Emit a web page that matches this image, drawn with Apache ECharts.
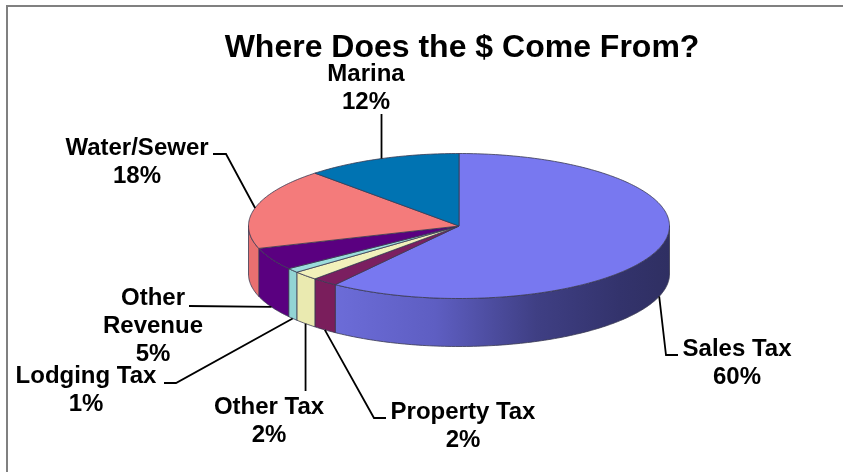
<!DOCTYPE html>
<html>
<head>
<meta charset="utf-8">
<style>html,body{margin:0;padding:0;background:#fff}#chart{width:843px;height:472px}</style>
<script src="https://cdn.jsdelivr.net/npm/echarts@6/dist/echarts.min.js"></script>
</head>
<body>
<div id="chart"></div>
<script>
// Revenue sources, clockwise from twelve o'clock
const categories = ['Sales Tax', 'Property Tax', 'Other Tax', 'Lodging Tax', 'Other Revenue', 'Water/Sewer', 'Marina'];
const shares = [60, 2, 2, 1, 5, 18, 12];
const chartTitle = 'Where Does the $ Come From?';

// Face and wall fills for each slice
const topColors = ['#7878f0', '#7b1f60', '#f1f1bb', '#9bdcdc', '#5a0080', '#f47b7b', '#0073b2'];
const wallColors = [null, '#7a1e5c', '#eaeab0', '#92d4d4', '#5a0080', '#e87070', '#0073b2'];
const salesWallStops = [
  { offset: 0, color: '#6c6cd8' }, { offset: 0.3, color: '#5e5ec2' },
  { offset: 0.6, color: '#3f3f84' }, { offset: 0.85, color: '#33336c' }, { offset: 1, color: '#2f2f62' }
];

// Disc geometry in pixels
const disc = { cx: 459, cy: 226, rx: 210.5, ry: 72.5, depth: 48 };

// Text placement: centre x and baseline of the first line; label-side points of each leader line
const labelLayout = [
  { lines: ['Sales Tax'], x: 737, y: 356, leader: [[678, 355], [666, 355]], onWall: true },
  { lines: ['Property Tax'], x: 463, y: 419, leader: [[386, 418], [374, 418]], onWall: true },
  { lines: ['Other Tax'], x: 269, y: 414, leader: [[308, 391]], onWall: true, vertical: true },
  { lines: ['Lodging Tax'], x: 86, y: 383, leader: [[164, 383], [176, 383]], onWall: true },
  { lines: ['Other', 'Revenue'], x: 153, y: 305, leader: [[189, 306]], onWall: true },
  { lines: ['Water/Sewer'], x: 137, y: 155, leader: [[213, 154], [226, 154]], onWall: false },
  { lines: ['Marina'], x: 366, y: 81, leader: [[382, 114]], onWall: false, vertical: true }
];
const lineStep = 28;
const labelFontSize = 24;
const descent = 5;
const labelFont = 'bold ' + labelFontSize + 'px "Liberation Sans", Arial, sans-serif';

const total = shares.reduce((a, b) => a + b, 0);
const bounds = [];
shares.reduce((acc, v) => { bounds.push([acc / total, (acc + v) / total]); return acc + v; }, 0);

// Angle measured clockwise from the top of the disc
function rimPoint(t, drop) {
  const a = t * 2 * Math.PI;
  return [disc.cx + disc.rx * Math.sin(a), disc.cy - disc.ry * Math.cos(a) + (drop || 0)];
}
function arc(t0, t1, drop) {
  const pts = [];
  const n = Math.max(4, Math.ceil((t1 - t0) * 360));
  for (let i = 0; i <= n; i++) pts.push(rimPoint(t0 + (t1 - t0) * i / n, drop));
  return pts;
}

const edge = { stroke: '#3a3a52', lineWidth: 0.8, lineJoin: 'round' };

function renderWall(params, api) {
  const i = api.value(0);
  // Only the part of the rim facing the viewer is visible
  const t0 = Math.max(bounds[i][0], 0.25), t1 = Math.min(bounds[i][1], 0.75);
  if (t1 <= t0) return { type: 'group', children: [] };
  const pts = arc(t0, t1, 0).concat(arc(t0, t1, disc.depth).reverse());
  // Sales wall runs left (lit) to right (shaded)
  const fill = i === 0 ? new echarts.graphic.LinearGradient(0, 0, 1, 0, salesWallStops) : wallColors[i];
  return { type: 'polygon', shape: { points: pts }, style: Object.assign({ fill }, edge) };
}

function renderTop(params, api) {
  const i = api.value(0);
  const pts = [[disc.cx, disc.cy]].concat(arc(bounds[i][0], bounds[i][1], 0));
  return { type: 'polygon', shape: { points: pts }, style: Object.assign({ fill: topColors[i] }, edge) };
}

function renderLabel(params, api) {
  const i = api.value(0);
  const layout = labelLayout[i];
  const mid = (bounds[i][0] + bounds[i][1]) / 2;
  const anchor = rimPoint(mid, layout.onWall ? disc.depth : 0);
  const path = layout.leader.map(p => (layout.vertical ? [anchor[0], p[1]] : p)).concat([anchor]);
  const rows = layout.lines.concat([Math.round(api.value(1) / total * 100) + '%']);
  const children = [{
    type: 'polyline', shape: { points: path },
    style: { stroke: '#000', lineWidth: 1.8, fill: null }
  }];
  rows.forEach((row, k) => children.push({
    type: 'text',
    style: { text: row, x: layout.x, y: layout.y + descent + k * lineStep, font: labelFont, fill: '#000', align: 'center', verticalAlign: 'bottom' }
  }));
  return { type: 'group', children };
}

const seriesData = categories.map((name, i) => ({ name, value: [i, shares[i]] }));
const chart = echarts.init(document.getElementById('chart'), null, { renderer: 'canvas' });
chart.setOption({
  animation: false,
  backgroundColor: '#fff',
  title: {
    text: chartTitle, left: 457, top: 27, textAlign: 'center',
    textStyle: { fontFamily: '"Liberation Sans", Arial, sans-serif', fontWeight: 'bold', fontSize: 32, color: '#000' }
  },
  // Frame shows along the top and left sides only
  graphic: [{ type: 'polyline', silent: true, z: 1, shape: { points: [[7, 472], [7, 6], [843, 6]] }, style: { fill: null, stroke: '#808080', lineWidth: 2 } }],
  series: [
    { type: 'custom', coordinateSystem: 'none', z: 2, silent: true, renderItem: renderWall, data: seriesData },
    { type: 'custom', coordinateSystem: 'none', z: 3, silent: true, renderItem: renderTop, data: seriesData },
    { type: 'custom', coordinateSystem: 'none', z: 4, silent: true, renderItem: renderLabel, data: seriesData }
  ]
});
</script>
</body>
</html>
